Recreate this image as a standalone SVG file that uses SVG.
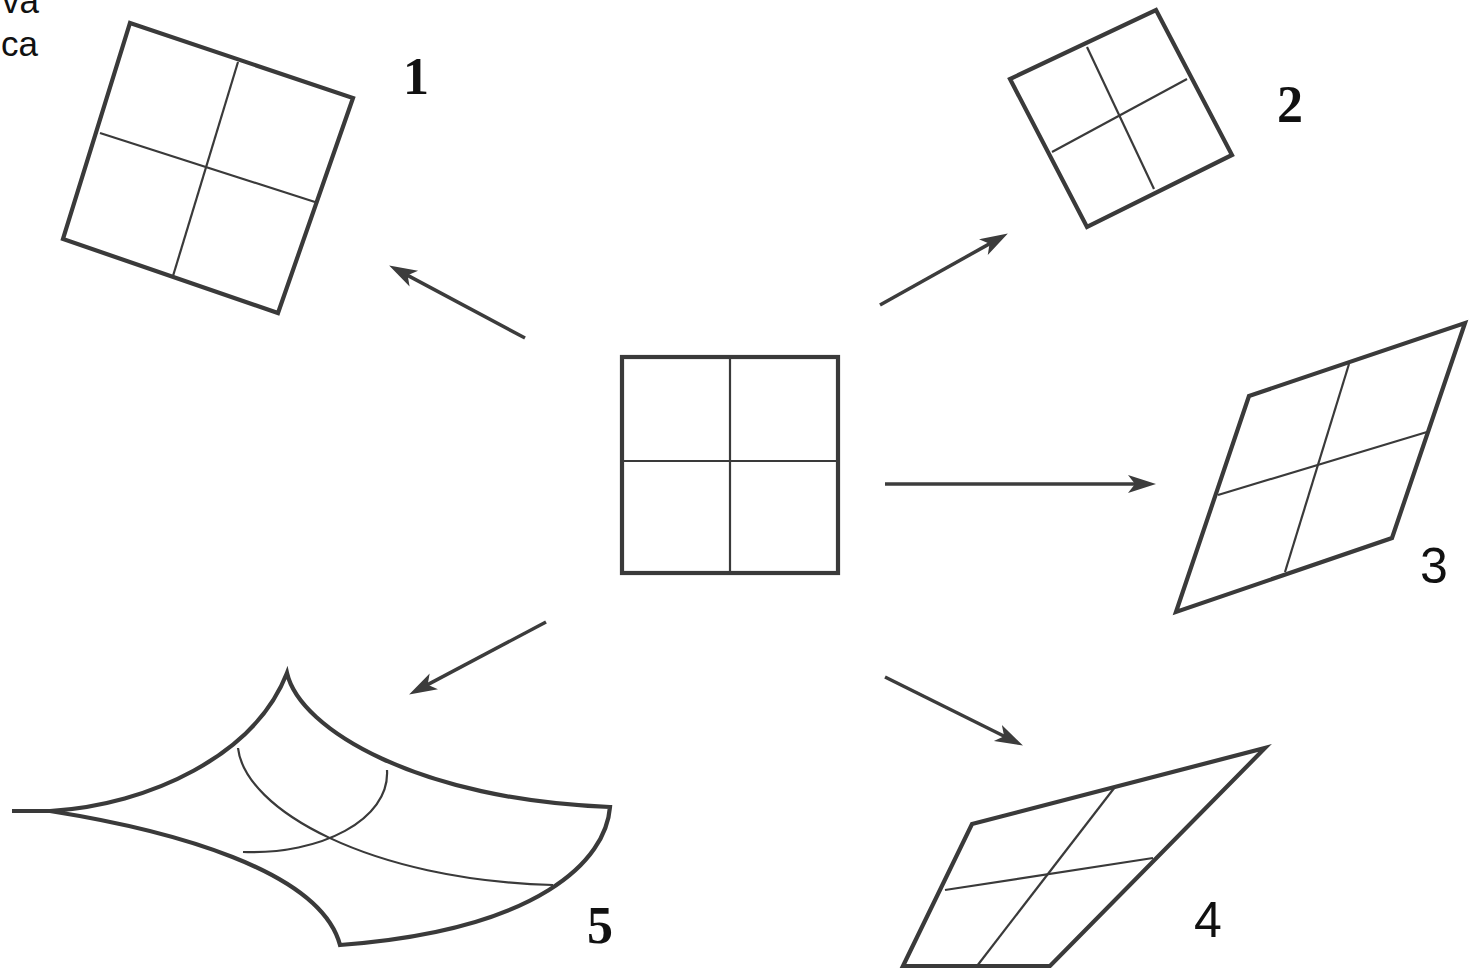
<svg xmlns="http://www.w3.org/2000/svg" width="1470" height="969" viewBox="0 0 1470 969">
<defs>
<marker id="ah" markerUnits="userSpaceOnUse" markerWidth="32" markerHeight="22" refX="15" refY="9" orient="auto">
<path d="M0,0 L28,9 L0,18 L7,9 Z" fill="#3c3c3c"/>
</marker>
<style>
.frame{fill:none;stroke:#3a3a3a;stroke-width:4.2;stroke-linejoin:miter}
.grid{fill:none;stroke:#3a3a3a;stroke-width:2.2}
.arrow{fill:none;stroke:#3c3c3c;stroke-width:3.5;marker-end:url(#ah)}
.lblS{font-family:"Liberation Serif","DejaVu Serif",serif;font-weight:bold;font-size:52px;fill:#111;text-anchor:middle}
.lblA{font-family:"Liberation Sans",Arial,sans-serif;font-size:50px;fill:#111;text-anchor:middle}
.cap{font-family:"Liberation Sans",Arial,sans-serif;font-size:35px;fill:#111}
</style>
</defs>
<rect width="1470" height="969" fill="#fff"/>
<text class="cap" x="39" y="13" text-anchor="end">va</text>
<text class="cap" x="1" y="56">ca</text>

<g id="center">
<rect class="frame" x="622" y="357" width="216" height="216"/>
<line class="grid" x1="730" y1="357" x2="730" y2="573"/>
<line class="grid" x1="622" y1="461" x2="838" y2="461"/>
</g>

<g id="node1">
<polygon class="frame" points="130,23 353,98 278,313 63,239"/>
<line class="grid" x1="238" y1="62" x2="173" y2="276"/>
<line class="grid" x1="100" y1="133" x2="315" y2="202"/>
<text class="lblS" x="416" y="94">1</text>
</g>

<g id="node2">
<polygon class="frame" points="1156,10 1232,155 1087,227 1010,79"/>
<line class="grid" x1="1087" y1="47" x2="1154" y2="189"/>
<line class="grid" x1="1052" y1="152" x2="1187" y2="79"/>
<text class="lblS" x="1290" y="122">2</text>
</g>

<g id="node3">
<polygon class="frame" points="1249,396 1465,323 1392,538 1176,612"/>
<line class="grid" x1="1349" y1="364" x2="1285" y2="572"/>
<line class="grid" x1="1218" y1="495" x2="1427" y2="432"/>
<text class="lblA" x="1434" y="583">3</text>
</g>

<g id="node4">
<polygon class="frame" points="972,824 1265,748 1050,966 903,966"/>
<line class="grid" x1="1115" y1="787" x2="977" y2="966"/>
<line class="grid" x1="945" y1="890" x2="1153" y2="858"/>
<text class="lblA" x="1208" y="937">4</text>
</g>

<g id="node5">
<path class="frame" d="M12,811 L50,811"/>
<path class="frame" d="M50,811 C150,805 255,755 287,673 C300,730 420,800 610,807 C606,860 540,930 340,945 C320,870 170,830 50,811 Z"/>
<path class="grid" d="M238,748 C245,810 370,880 553,885"/>
<path class="grid" d="M387,770 C390,820 320,855 243,852"/>
<text class="lblS" x="600" y="943">5</text>
</g>

<g id="connectors">
<line class="arrow" x1="525" y1="338" x2="400.6" y2="271.6"/>
<line class="arrow" x1="880" y1="305" x2="996.5" y2="239.9"/>
<line class="arrow" x1="885" y1="484" x2="1143" y2="484"/>
<line class="arrow" x1="885" y1="677" x2="1011.3" y2="739.7"/>
<line class="arrow" x1="546" y1="622" x2="420.6" y2="688.4"/>
</g>
</svg>
